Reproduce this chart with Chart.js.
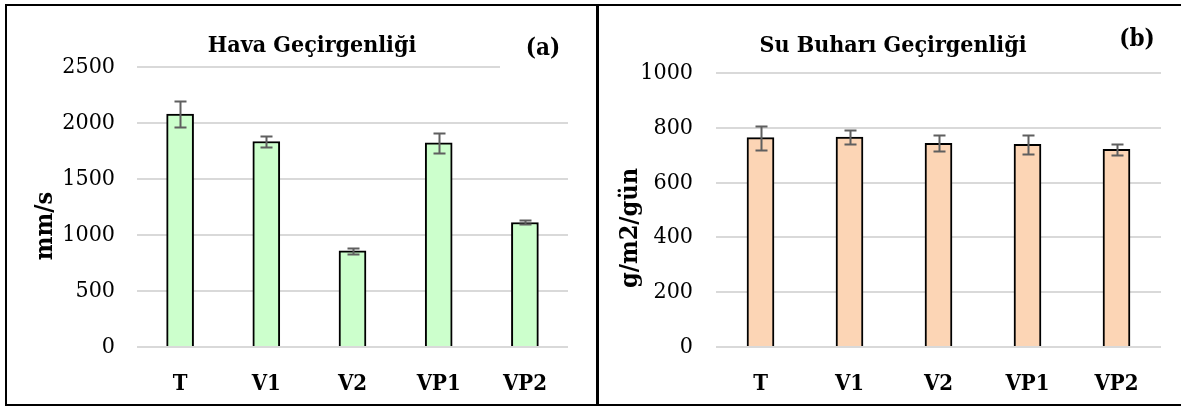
<!DOCTYPE html>
<html><head><meta charset="utf-8">
<script src="https://cdn.jsdelivr.net/npm/chart.js@4/dist/chart.umd.min.js"></script>
<style>
html,body{margin:0;padding:0;background:#fff;width:1181px;height:407px;overflow:hidden}
body{position:relative}
canvas{position:absolute;top:0}
#c1{left:0}
#c2{left:600px}
.panel{position:absolute;border:2px solid #000;box-sizing:border-box;pointer-events:none}
</style></head><body>
<canvas id="c1" width="598" height="407"></canvas>
<canvas id="c2" width="581" height="407"></canvas>
<div class="panel" style="left:5px;top:4px;width:593px;height:402px"></div>
<div class="panel" style="left:597px;top:4px;width:600px;height:402px"></div>
<script>
const categories = ['T', 'V1', 'V2', 'VP1', 'VP2'];
const airValues = [2080, 1835, 858, 1822, 1112];
const airErrors = [112, 52, 28, 92, 18];
const vaporValues = [764, 766, 743, 740, 721];
const vaporErrors = [44, 26, 29, 34, 21];
const airTicks = [0, 500, 1000, 1500, 2000, 2500];
const vaporTicks = [0, 200, 400, 600, 800, 1000];

const F = "'DejaVu Serif Condensed', 'DejaVu Serif', serif";

const errorBars = {
  id: 'errorBars',
  afterDatasetsDraw(chart, args, o) {
    const ctx = chart.ctx, y = chart.scales.y;
    const meta = chart.getDatasetMeta(0);
    ctx.save();
    ctx.strokeStyle = o.color; ctx.lineWidth = o.width;
    meta.data.forEach((bar, i) => {
      const v = o.values[i], e = o.errors[i];
      const yt = Math.round(y.getPixelForValue(v + e)) + 0.5;
      const yb = Math.round(y.getPixelForValue(v - e)) + 0.5;
      const x = Math.round(bar.x) + 0.5;
      ctx.beginPath();
      ctx.moveTo(x, yt); ctx.lineTo(x, yb);
      ctx.moveTo(x - o.cap, yt); ctx.lineTo(x + o.cap, yt);
      ctx.moveTo(x - o.cap, yb); ctx.lineTo(x + o.cap, yb);
      ctx.stroke();
    });
    ctx.restore();
  }
};

const panelText = {
  id: 'panelText',
  afterDraw(chart, args, o) {
    const ctx = chart.ctx;
    ctx.save();
    if (o.mask) { ctx.fillStyle = '#fff'; ctx.fillRect(o.mask[0], o.mask[1], o.mask[2], o.mask[3]); }
    ctx.fillStyle = '#000'; ctx.textAlign = 'center'; ctx.textBaseline = 'middle';
    ctx.font = 'bold 24px ' + F;
    ctx.fillText(o.tag, o.tagX, o.tagY);
    ctx.translate(o.axisX, o.axisY);
    ctx.rotate(-Math.PI / 2);
    ctx.font = 'bold 25px ' + F;
    ctx.fillText(o.axisTitle, 0, 0);
    ctx.restore();
  }
};

function makeChart(id, cfg) {
  return new Chart(document.getElementById(id), {
    type: 'bar',
    data: {
      labels: categories,
      datasets: [{
        data: cfg.values,
        backgroundColor: cfg.fill,
        borderColor: '#000',
        borderWidth: 2,
        barThickness: 27
      }]
    },
    options: {
      responsive: false,
      animation: false,
      devicePixelRatio: 1,
      layout: { padding: { left: cfg.padL, right: cfg.padR, top: 0, bottom: 0 } },
      plugins: {
        legend: { display: false },
        tooltip: { enabled: false },
        title: {
          display: true, text: cfg.title, color: '#000',
          font: { family: F, size: 23, weight: 'bold', lineHeight: 1.2 },
          padding: { top: 32, bottom: cfg.titleBottom }
        },
        errorBars: { values: cfg.values, errors: cfg.errors, color: '#5f5f5f', width: 2, cap: 6 },
        panelText: cfg.text
      },
      scales: {
        x: {
          grid: { display: false },
          border: { display: false },
          ticks: { color: '#000', font: { family: F, size: 22, weight: 'bold' }, padding: 16 },
          afterFit: s => { s.height = 60; }
        },
        y: {
          min: cfg.ticks[0], max: cfg.ticks[cfg.ticks.length - 1],
          afterBuildTicks: s => { s.ticks = cfg.ticks.map(v => ({ value: v })); },
          grid: { color: '#d9d9d9', lineWidth: 2, drawTicks: false },
          border: { display: false },
          ticks: { color: '#000', font: { family: F, size: 23 }, padding: cfg.tickPad, callback: v => String(v) },
          afterFit: s => { s.width = cfg.yWidth; }
        }
      }
    },
    plugins: [errorBars, panelText]
  });
}

makeChart('c1', {
  values: airValues, errors: airErrors, ticks: airTicks,
  fill: '#ccffcc', title: 'Hava Geçirgenliği',
  padL: 56, padR: 30, yWidth: 81, tickPad: 22, titleBottom: 7.4,
  text: { tag: '(a)', tagX: 543, tagY: 49, mask: [500, 62, 72, 10], axisTitle: 'mm/s', axisX: 45, axisY: 226 }
});
makeChart('c2', {
  values: vaporValues, errors: vaporErrors, ticks: vaporTicks,
  fill: '#fcd5b5', title: 'Su Buharı Geçirgenliği',
  padL: 25, padR: 20, yWidth: 91, tickPad: 23, titleBottom: 13.4,
  text: { tag: '(b)', tagX: 537, tagY: 40, axisTitle: 'g/m2/gün', axisX: 30, axisY: 228 }
});
</script>
</body></html>
